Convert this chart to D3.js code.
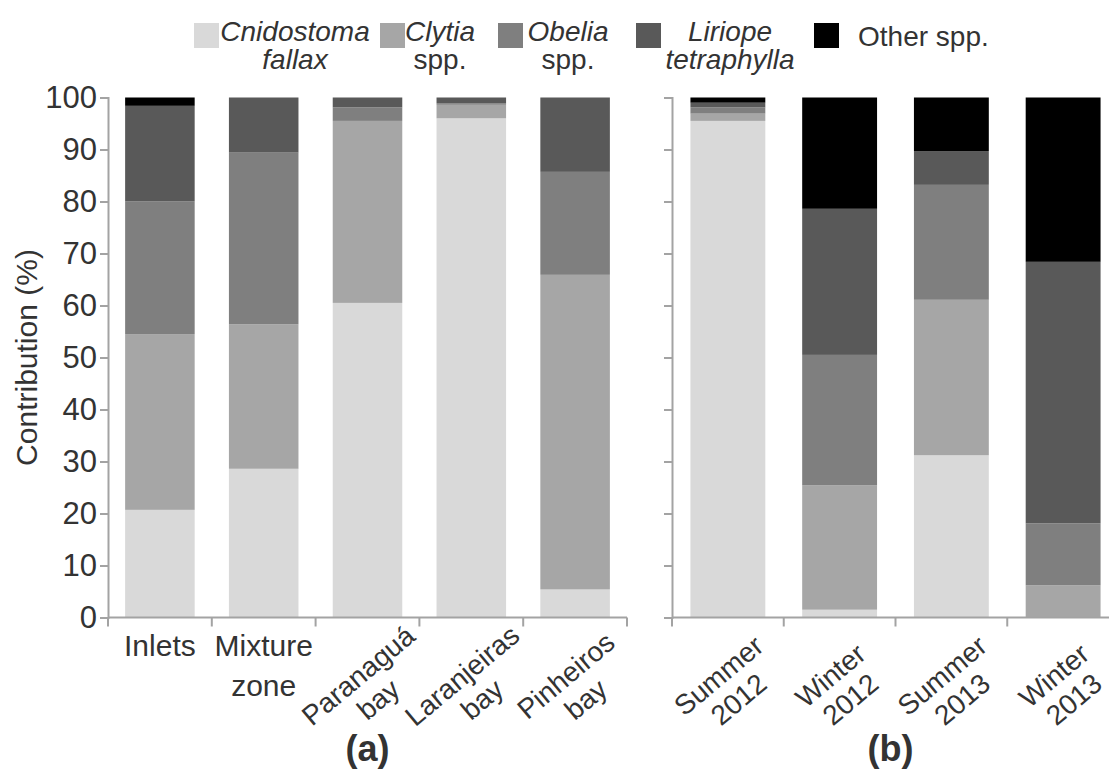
<!DOCTYPE html>
<html>
<head>
<meta charset="utf-8">
<script src="https://cdn.jsdelivr.net/npm/d3@7"></script>
<style>
  body { margin: 0; background: #fff; }
  svg { display: block; }
  text { font-family: "Liberation Sans", Arial, sans-serif; fill: #333; }
</style>
</head>
<body>
<svg id="chart"></svg>
<script>
// species (stack order, bottom to top)
const species = ["Cnidostoma fallax", "Clytia spp.", "Obelia spp.", "Liriope tetraphylla", "Other spp."];
const legendLines = [["Cnidostoma", "fallax"], ["Clytia", "spp."], ["Obelia", "spp."], ["Liriope", "tetraphylla"], ["Other spp."]];
const legendItalic = [[true, true], [true, false], [true, false], [true, true], [false]];
const colors = ["#d9d9d9", "#a6a6a6", "#7f7f7f", "#595959", "#000000"];

// panel (a): areas
const areas = ["Inlets", "Mixture zone", "Paranaguá bay", "Laranjeiras bay", "Pinheiros bay"];
const cnidostomaA = [20.7, 28.6, 60.5, 96.0, 5.4];
const clytiaA = [33.8, 27.8, 35.0, 2.6, 60.5];
const obeliaA = [25.5, 33.0, 2.6, 0.3, 19.8];
const liriopeA = [18.4, 10.6, 1.9, 1.1, 14.3];
const otherA = [1.6, 0, 0, 0, 0];

// panel (b): seasons
const seasons = ["Summer 2012", "Winter 2012", "Summer 2013", "Winter 2013"];
const cnidostomaB = [95.5, 1.5, 31.2, 0];
const clytiaB = [1.4, 23.9, 29.9, 6.2];
const obeliaB = [1.2, 25.1, 22.1, 11.9];
const liriopeB = [0.9, 28.1, 6.5, 50.3];
const otherB = [1.0, 21.4, 10.3, 31.6];

const yTicks = [0, 10, 20, 30, 40, 50, 60, 70, 80, 90, 100];

const W = 1109, H = 772;
const svg = d3.select("#chart").attr("width", W).attr("height", H);

const y = d3.scaleLinear().domain([0, 100]).range([617.5, 97.5]);
const axisColor = "#a3a3a3";

function buildRows(cats, cols) {
  return cats.map((c, i) => {
    const row = { cat: c };
    species.forEach((s, k) => (row[s] = cols[k][i]));
    return row;
  });
}

function drawPanel(cats, cols, x0, x1, showLabels, rotated, title) {
  const x = d3.scaleBand().domain(cats).range([x0, x1]).paddingInner(0.33).paddingOuter(0.165);
  const g = svg.append("g");
  const stacked = d3.stack().keys(species)(buildRows(cats, cols));

  g.selectAll(".layer")
    .data(stacked)
    .join("g")
    .attr("fill", (d, i) => colors[i])
    .selectAll("rect")
    .data((d) => d)
    .join("rect")
    .attr("x", (d) => x(d.data.cat))
    .attr("width", x.bandwidth())
    .attr("y", (d) => y(d[1]))
    .attr("height", (d) => y(d[0]) - y(d[1]));

  // y axis
  const yAxis = g.append("g")
    .attr("transform", `translate(${x0},0)`)
    .call(d3.axisLeft(y).tickValues(yTicks).tickSize(8).tickPadding(3)
      .tickFormat(showLabels ? d3.format("d") : () => ""));
  yAxis.selectAll("path, line").attr("stroke", axisColor).attr("stroke-width", 2);
  yAxis.selectAll("text").style("font-size", "31px").attr("fill", "#333");

  // x axis line + ticks at band edges
  const xEnd = Math.min(x1, W);
  g.append("line").attr("x1", x0).attr("x2", xEnd).attr("y1", y(0)).attr("y2", y(0))
    .attr("stroke", axisColor).attr("stroke-width", 2);
  const half = (x.step() - x.bandwidth()) / 2;
  const edges = cats.map((c) => x(c) - half).concat([x(cats[cats.length - 1]) + x.bandwidth() + half]);
  g.selectAll(".xtick")
    .data(edges.filter((e) => e <= W))
    .join("line")
    .attr("x1", (d) => d).attr("x2", (d) => d)
    .attr("y1", y(0)).attr("y2", y(0) + 9)
    .attr("stroke", axisColor).attr("stroke-width", 2);

  // category labels
  cats.forEach((c, i) => {
    const cx = x(c) + x.bandwidth() / 2;
    const words = c.split(" ");
    if (rotated[i]) {
      const t = g.append("text")
        .attr("transform", `translate(${cx - 3},${683}) rotate(-40)`)
        .attr("text-anchor", "middle")
        .style("font-size", "28px");
      t.append("tspan").attr("x", 0).attr("y", 0).text(words[0]);
      t.append("tspan").attr("x", 0).attr("y", 31).text(words[1]);
    } else {
      const t = g.append("text").attr("text-anchor", "middle").style("font-size", "30px");
      words.forEach((w, k) => t.append("tspan").attr("x", cx).attr("y", 656 + k * 40).text(w));
    }
  });

  svg.append("text")
    .attr("x", (x0 + Math.min(x1, W)) / 2)
    .attr("y", 761)
    .attr("text-anchor", "middle")
    .style("font-size", "36px")
    .style("font-weight", "bold")
    .text(title);
}

drawPanel(areas, [cnidostomaA, clytiaA, obeliaA, liriopeA, otherA], 108, 627, true,
  [false, false, true, true, true], "(a)");
drawPanel(seasons, [cnidostomaB, clytiaB, obeliaB, liriopeB, otherB], 672, 1119, false,
  [true, true, true, true], "(b)");

// y axis title
svg.append("text")
  .attr("transform", `translate(37,${(y(0) + y(100)) / 2}) rotate(-90)`)
  .attr("text-anchor", "middle")
  .style("font-size", "30px")
  .text("Contribution (%)");

// legend
const legSquareX = [194, 380, 498, 636, 814];
const legTextX = [295, 440, 568, 730, 858];
const legend = svg.append("g");
species.forEach((s, i) => {
  legend.append("rect")
    .attr("x", legSquareX[i]).attr("y", 23)
    .attr("width", 25).attr("height", 25)
    .attr("fill", colors[i]);
  const lines = legendLines[i];
  const t = legend.append("text")
    .attr("text-anchor", lines.length > 1 ? "middle" : "start")
    .style("font-size", "28px");
  lines.forEach((l, k) => {
    t.append("tspan")
      .attr("x", legTextX[i])
      .attr("y", lines.length > 1 ? 41 + k * 28 : 46)
      .style("font-style", legendItalic[i][k] ? "italic" : "normal")
      .text(l);
  });
});
</script>
</body>
</html>
